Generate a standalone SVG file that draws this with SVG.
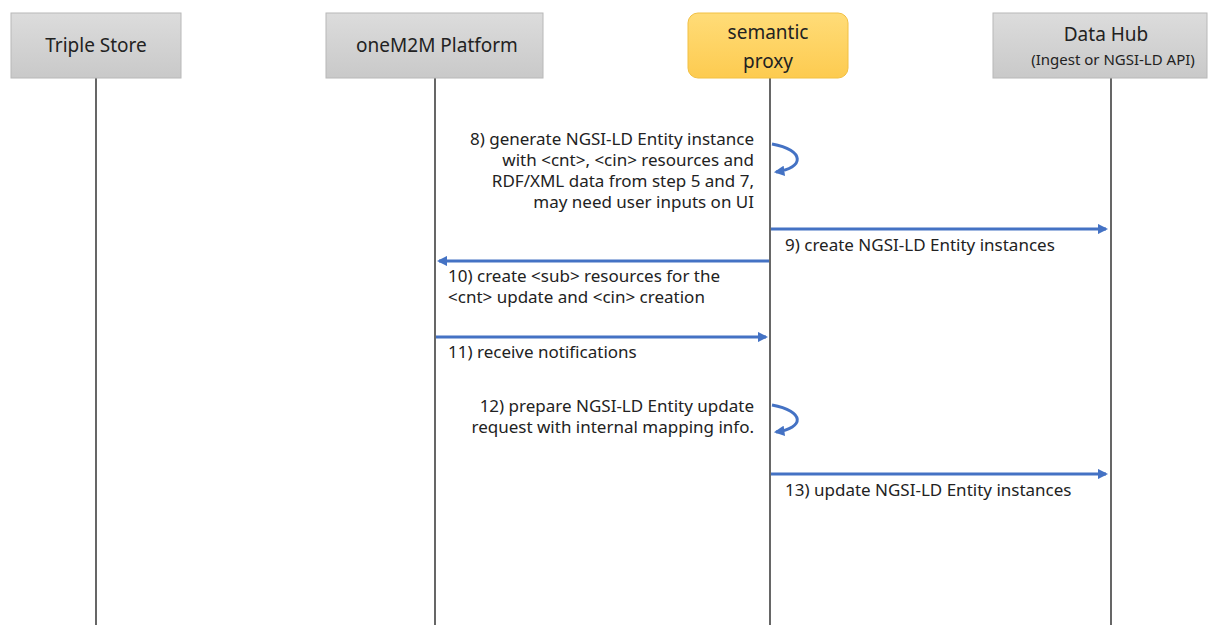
<svg xmlns="http://www.w3.org/2000/svg" width="1209" height="625" viewBox="0 0 1209 625">
<style>
.box{fill:url(#gray);stroke:#b8b8b8;stroke-width:1}
.title{font-family:"Noto Sans","Liberation Sans",Arial,sans-serif;font-size:19px;fill:#222;text-anchor:middle}
.sub{font-family:"Noto Sans","Liberation Sans",Arial,sans-serif;font-size:15px;fill:#222;text-anchor:middle}
.life{stroke:#000;stroke-width:1.2}
.msg{stroke:#4472C4;stroke-width:3;fill:none;marker-end:url(#ah)}
.lbl{font-family:"Noto Sans","Liberation Sans",Arial,sans-serif;font-size:17px;fill:#222}
.r{text-anchor:end}
</style>
<defs>
<linearGradient id="gray" x1="0" y1="0" x2="0" y2="1"><stop offset="0" stop-color="#dcdcdc"/><stop offset="1" stop-color="#c9c9c9"/></linearGradient>
<linearGradient id="yel" x1="0" y1="0" x2="0" y2="1"><stop offset="0" stop-color="#ffdc78"/><stop offset="1" stop-color="#fdcb50"/></linearGradient>
<marker id="ah" viewBox="0 0 10 10" refX="8" refY="5" markerWidth="3.5" markerHeight="3.5" orient="auto" markerUnits="strokeWidth"><path d="M0,0 L10,5 L0,10 z" fill="#4472C4"/></marker>
</defs>
<rect width="1209" height="625" fill="#fff"/>
<g id="lifelines">
<line class="life" x1="96" y1="78" x2="96" y2="625"/>
<line class="life" x1="435" y1="78" x2="435" y2="625"/>
<line class="life" x1="770" y1="78" x2="770" y2="625"/>
<line class="life" x1="1111" y1="78" x2="1111" y2="625"/>
</g>
<g id="triple-store"><rect class="box" x="11" y="13" width="170" height="65"/><text class="title" x="96" y="52">Triple Store</text></g>
<g id="onem2m"><rect class="box" x="326" y="13" width="217" height="65"/><text class="title" x="437" y="52">oneM2M Platform</text></g>
<g id="proxy"><rect x="688" y="13" width="160" height="65" rx="10" fill="url(#yel)" stroke="#f2c043"/><text class="title" x="768" y="39">semantic</text><text class="title" x="768" y="68">proxy</text></g>
<g id="datahub"><rect class="box" x="993" y="13" width="214" height="65"/><text class="title" x="1106" y="41">Data Hub</text><text class="sub" x="1113" y="65">(Ingest or NGSI-LD API)</text></g>
<g id="connectors">
<path class="msg" d="M772,144 C805,150 805,168 776,172"/>
<line class="msg" x1="771" y1="229" x2="1106" y2="229"/>
<line class="msg" x1="769" y1="261" x2="439" y2="261"/>
<line class="msg" x1="436" y1="337" x2="766" y2="337"/>
<path class="msg" d="M772,405 C805,411 805,428 776,432"/>
<line class="msg" x1="771" y1="474" x2="1106" y2="474"/>
</g>
<g id="labels">
<text class="lbl r" x="754" y="145">8) generate NGSI-LD Entity instance</text>
<text class="lbl r" x="754" y="166">with &lt;cnt&gt;, &lt;cin&gt; resources and</text>
<text class="lbl r" x="754" y="187">RDF/XML data from step 5 and 7,</text>
<text class="lbl r" x="754" y="208">may need user inputs on UI</text>
<text class="lbl" x="785" y="251">9) create NGSI-LD Entity instances</text>
<text class="lbl" x="448" y="282">10) create &lt;sub&gt; resources for the</text>
<text class="lbl" x="448" y="303">&lt;cnt&gt; update and &lt;cin&gt; creation</text>
<text class="lbl" x="448" y="358">11) receive notifications</text>
<text class="lbl r" x="754" y="412">12) prepare NGSI-LD Entity update</text>
<text class="lbl r" x="754" y="433">request with internal mapping info.</text>
<text class="lbl" x="785" y="496">13) update NGSI-LD Entity instances</text>
</g>
</svg>
